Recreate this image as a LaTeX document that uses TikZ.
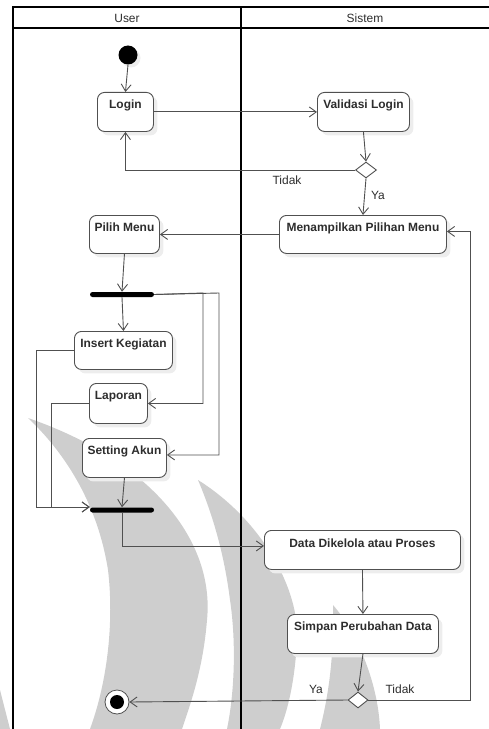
\documentclass[tikz,border=0pt]{standalone}
\usepackage{fontspec}
\setmainfont{Liberation Sans}
\usetikzlibrary{arrows.meta,shapes.geometric,shadows}
\definecolor{wm}{RGB}{206,206,206}
\definecolor{ln}{RGB}{80,80,80}
\definecolor{tx}{RGB}{45,45,45}
\tikzset{
  act/.style={draw=ln, fill=white, line width=0.9bp, rounded corners=7bp,
    font=\fontsize{12}{14}\selectfont\bfseries, text=tx, inner xsep=0bp, inner ysep=0bp,
    text height=16bp, anchor=north west,
    general shadow={fill=black!7, shadow xshift=4bp, shadow yshift=-4bp}},
  bar/.style={fill=black, rounded corners=2.5bp, minimum width=64bp, minimum height=5bp, inner sep=0bp},
  dec/.style={diamond, draw=ln, fill=white, line width=0.9bp, minimum width=21bp, minimum height=16bp, inner sep=0bp},
  flow/.style={draw=ln, line width=0.9bp, -{Straight Barb[length=7bp,width=10bp]}},
  lbl/.style={font=\fontsize{12}{14}\selectfont, text=tx, inner sep=0bp},
  hdr/.style={font=\fontsize{12}{14}\selectfont, text=tx, inner sep=0bp},
  lane/.style={draw=black, line width=1.3bp},
}
\begin{document}
\begin{tikzpicture}[x=1bp,y=-1bp]
\useasboundingbox (0,0) rectangle (489,729);
% watermark
\fill[wm] (28,418) .. controls (150,460) and (215,540) .. (207,620) .. controls (203,670) and (190,705) .. (182,729) -- (90,729) .. controls (108,680) and (114,620) .. (108,570) .. controls (97,500) and (62,450) .. (28,418) -- cycle;
\fill[wm] (198,480) .. controls (262,520) and (300,590) .. (297,640) .. controls (295,680) and (288,710) .. (280,729) -- (227,729) .. controls (235,690) and (236,640) .. (230,600) .. controls (225,560) and (215,520) .. (198,480) -- cycle;
\fill[wm] (333,605) .. controls (355,630) and (378,680) .. (380,729) -- (320,729) .. controls (330,690) and (334,650) .. (333,605) -- cycle;
\fill[wm] (0,690) -- (10,729) -- (0,729) -- cycle;
% swimlanes
\draw[lane] (489,7) -- (13,7) -- (13,729);
\draw[lane] (13,28) -- (489,28);
\draw[lane] (241,7) -- (241,729);
\node[hdr] (huser) at (127,18) {User};
\node[hdr] (hsis) at (365,18) {Sistem};
% nodes
\node[circle, fill=black, minimum size=19bp, inner sep=0bp, general shadow={fill=black!7, shadow xshift=3bp, shadow yshift=-3bp}] (start) at (128,55) {};
\node[act, minimum width=56bp, text depth=23bp] (login) at (97,92) {Login};
\node[act, minimum width=92bp, text depth=23bp] (valid) at (317,92) {Validasi Login};
\node[dec] (dec1) at (366,170) {};
\node[act, minimum width=70bp, text depth=22bp] (pilih) at (89,215) {Pilih Menu};
\node[act, minimum width=167bp, text depth=22bp] (menu) at (279,215) {Menampilkan Pilihan Menu};
\node[bar] (fork) at (122,294.5) {};
\node[act, minimum width=98bp, text depth=22bp] (insert) at (74,331) {Insert Kegiatan};
\node[act, minimum width=58bp, text depth=24bp] (laporan) at (89,383) {Laporan};
\node[act, minimum width=84bp, text depth=23bp] (setting) at (82,438) {Setting Akun};
\node[bar] (join) at (122,510) {};
\node[act, minimum width=196bp, text depth=22bp, text height=17bp] (data) at (264,530) {Data Dikelola atau Proses};
\node[act, minimum width=151bp, text depth=23bp] (simpan) at (287,614) {Simpan Perubahan Data};
\node[dec, minimum width=20bp] (dec2) at (358,700) {};
\node[circle, draw=ln, fill=white, line width=0.8bp, minimum size=24bp, inner sep=0bp] (final) at (117,702) {};
\node[circle, fill=black, minimum size=14bp, inner sep=0bp] (finalin) at (117,702) {};
% coordinates
\coordinate (r1) at (203,293);
\coordinate (r2) at (219,293);
\coordinate (loop) at (470,700);
% connectors
\draw[flow] (start.south) -- (login.north);
\draw[flow] (login) -- (valid);
\draw[flow] (valid.south) -- (dec1.north);
\draw[flow] (dec1.west) -| (login.south);
\node[lbl] (t1) at (287,180) {Tidak};
\draw[flow] (dec1.south) -- (menu.north);
\node[lbl] (y1) at (378,195) {Ya};
\draw[flow] (menu) -- (pilih);
\draw[flow] (pilih.south) -- (fork.north);
\draw[flow] (fork.south) -- (insert.north);
\draw[flow] (fork.east) -- (r2) |- ([yshift=3bp]setting.east);
\draw[flow] (fork.east) -- (r1) |- (laporan.east);
\draw[flow] (insert.west) -- ++(-38,0) |- ([yshift=3bp]join.west);
\draw[flow] (laporan.west) -- ++(-38,0) |- ([yshift=3bp]join.west);
\draw[flow] (setting.south) -- (join.north);
\draw[flow] (join.south) |- ([yshift=4bp]data.west);
\draw[flow] (data.south) -- (simpan.north);
\draw[flow] (simpan.south) -- (dec2.north);
\draw[flow] (dec2.east) -- (loop) |- ([yshift=3bp]menu.east);
\draw[flow] (dec2.west) -- (final.east);
\node[lbl] (y2) at (316,689) {Ya};
\node[lbl] (t2) at (400,689) {Tidak};
\end{tikzpicture}
\end{document}
